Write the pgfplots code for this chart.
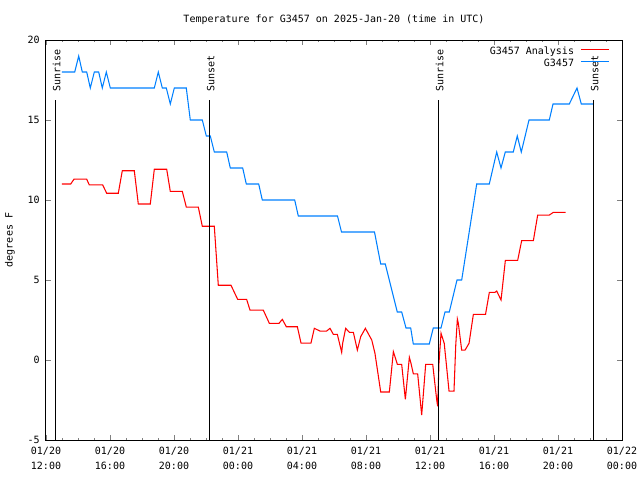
\documentclass[border=0pt]{standalone}
\usepackage{fontspec}
\setmainfont{DejaVu Sans Mono}
\usepackage{pgfplots}
\pgfplotsset{compat=1.18}
\definecolor{obsblue}{RGB}{0,128,255}
\definecolor{anared}{RGB}{255,0,0}
\newcommand{\gfont}{\fontsize{7.5}{9}\selectfont}
\begin{document}
\begin{tikzpicture}
\useasboundingbox (-34.5pt,-30pt) rectangle (445.5pt,330pt);
\begin{axis}[
  at={(0pt,0pt)}, anchor=south west,
  scale only axis, width=432pt, height=300pt,
  xmin=0, xmax=36, ymin=-5, ymax=20,
  xtick={0,4,...,36},
  xticklabels={{01/20\\[2pt]12:00},{01/20\\[2pt]16:00},{01/20\\[2pt]20:00},{01/21\\[2pt]00:00},{01/21\\[2pt]04:00},{01/21\\[2pt]08:00},{01/21\\[2pt]12:00},{01/21\\[2pt]16:00},{01/21\\[2pt]20:00},{01/22\\[2pt]00:00}},
  minor x tick num=3,
  ytick={-5,0,5,10,15,20},
  yticklabels={-5,0,5,10,15,20},
  minor y tick num=0,
  tick align=inside, xtick pos=both, ytick pos=both,
  major tick length=3.4pt, minor tick length=1.7pt,
  axis line style={line width=0.75pt},
  tick style={line width=0.6pt},
  xticklabel style={align=center, font=\gfont, inner sep=0pt, anchor=north, yshift=-5pt},
  yticklabel style={font=\gfont, inner sep=0pt, anchor=east, xshift=-4.5pt},
  title={Temperature for G3457 on 2025-Jan-20 (time in UTC)},
  every axis title shift=0pt,
  title style={font=\gfont, at={(axis description cs:0.5,1.045)}, anchor=base, inner sep=0pt},
  ylabel={degrees F},
  ylabel style={font=\gfont, at={(axis description cs:-0.0625,0.5)}, anchor=center, inner sep=0pt},
]
\addplot[color=anared, line width=0.8pt] coordinates {
(1.0,11.0)(1.544,11.0)(1.75,11.3)(2.544,11.3)(2.706,10.94)(3.544,10.94)(3.794,10.42)(4.519,10.42)
(4.769,11.83)(5.519,11.83)(5.769,9.75)(6.519,9.75)(6.769,11.92)(7.544,11.92)(7.769,10.54)(8.519,10.54)
(8.769,9.56)(9.519,9.56)(9.769,8.36)(10.519,8.36)(10.769,4.67)(11.5625,4.67)(11.98,3.79)(12.54,3.79)
(12.75,3.12)(13.58,3.12)(13.96,2.29)(14.56,2.29)(14.77,2.54)(15.02,2.08)(15.71,2.08)(15.94,1.05)
(16.56,1.05)(16.77,1.98)(17.125,1.81)(17.54,1.81)(17.75,1.98)(17.96,1.6)(18.21,1.6)(18.48,0.48)
(18.54,1.04)(18.73,1.98)(18.96,1.73)(19.21,1.73)(19.46,0.62)(19.67,1.46)(19.96,1.98)(20.36,1.25)
(20.56,0.42)(20.92,-2.0)(21.46,-2.0)(21.71,0.52)(21.81,0.21)(21.96,-0.27)(22.23,-0.27)(22.46,-2.46)
(22.71,0.17)(22.81,-0.2)(22.96,-0.87)(23.23,-0.87)(23.48,-3.44)(23.58,-2.19)(23.73,-0.27)(24.17,-0.27)
(24.42,-2.5)(24.48,-2.9)(24.56,-0.2)(24.69,1.67)(24.89,1.04)(25.19,-1.94)(25.5,-1.94)(25.61,0.94)
(25.71,2.56)(25.77,2.3)(25.98,0.62)(26.19,0.62)(26.44,1.04)(26.71,2.85)(27.47,2.85)(27.71,4.23)
(28.06,4.23)(28.17,4.31)(28.44,3.75)(28.71,6.23)(29.48,6.23)(29.73,7.46)(30.46,7.46)(30.73,9.06)
(31.46,9.06)(31.71,9.23)(32.48,9.23)
};
\addplot[color=obsblue, line width=0.8pt] coordinates {
(1.0,18)(1.794,18)(2.044,19)(2.269,18)(2.544,18)(2.769,17)(3.019,18)(3.294,18)(3.519,17)(3.769,18)
(4.019,17)(6.769,17)(7.019,18)(7.269,17)(7.519,17)(7.769,16)(8.019,17)(8.769,17)(9.019,15)(9.769,15)
(10.019,14)(10.269,14)(10.519,13)(11.294,13)(11.519,12)(12.294,12)(12.519,11)(13.294,11)(13.519,10)
(15.544,10)(15.769,9)(18.219,9)(18.469,8)(20.531,8)(20.919,6)(21.206,6)(21.956,3)(22.231,3)(22.5,2)
(22.794,2)(22.956,1)(23.956,1)(24.206,2)(24.688,2)(24.938,3)(25.206,3)(25.688,5)(25.981,5)(26.919,11)
(27.706,11)(28.169,13)(28.438,12)(28.706,13)(29.206,13)(29.456,14)(29.706,13)(30.188,15)(31.456,15)
(31.688,16)(32.706,16)(33.188,17)(33.456,16)(34.206,16)
};
\addplot[black, line width=0.75pt] coordinates {(0.58,-5) (0.58,16.25)};
\addplot[black, line width=0.75pt] coordinates {(10.21,-5) (10.21,16.25)};
\addplot[black, line width=0.75pt] coordinates {(24.52,-5) (24.52,16.25)};
\addplot[black, line width=0.75pt] coordinates {(34.21,-5) (34.21,16.25)};
\node[rotate=90, anchor=west, inner sep=0pt, font=\gfont] at (axis cs:0.67,16.75) {Sunrise};
\node[rotate=90, anchor=west, inner sep=0pt, font=\gfont] at (axis cs:10.30,16.75) {Sunset};
\node[rotate=90, anchor=west, inner sep=0pt, font=\gfont] at (axis cs:24.61,16.75) {Sunrise};
\node[rotate=90, anchor=west, inner sep=0pt, font=\gfont] at (axis cs:34.30,16.75) {Sunset};
\node[anchor=base east, inner sep=0pt, font=\gfont] at (axis description cs:0.9172,0.964) {G3457 Analysis};
\node[anchor=base east, inner sep=0pt, font=\gfont] at (axis description cs:0.9172,0.934) {G3457};
\coordinate (r1) at (axis description cs:0.9288,0.97625);
\coordinate (r2) at (axis description cs:0.9779,0.97625);
\coordinate (b1) at (axis description cs:0.9288,0.94625);
\coordinate (b2) at (axis description cs:0.9779,0.94625);
\end{axis}
\begin{scope}
\color{anared}
\draw[line width=0.8pt] (r1) -- (r2);
\end{scope}
\begin{scope}
\color{obsblue}
\draw[line width=0.8pt] (b1) -- (b2);
\end{scope}
\end{tikzpicture}
\end{document}
